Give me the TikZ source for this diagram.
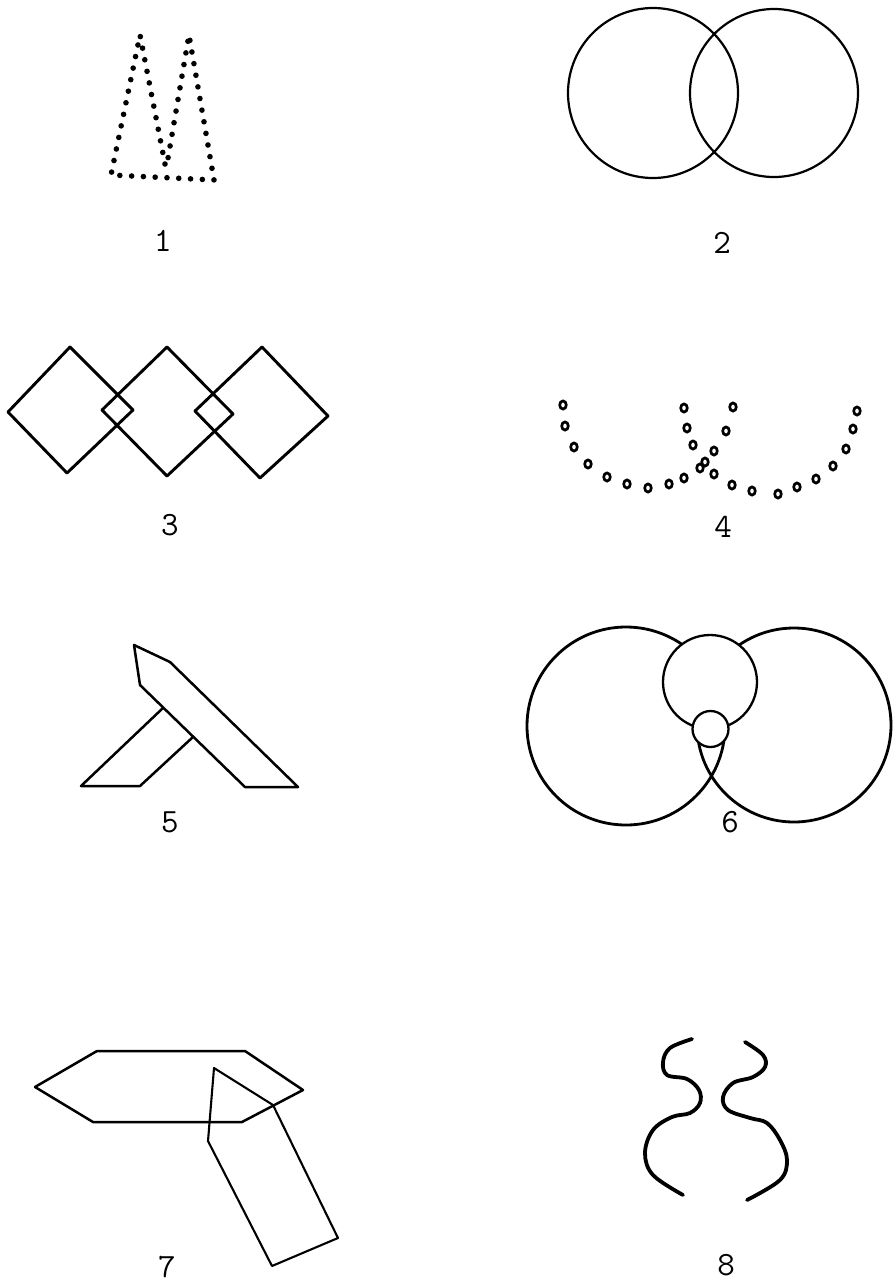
\documentclass[tikz,border=0pt]{standalone}
\usepackage{tikz}
\usetikzlibrary{calc}

\begin{document}
\begin{tikzpicture}[x=1pt, y=-1pt,
  figline/.style={line width=#1, line join=round, line cap=round},
  figline/.default=2.5pt,
  dotline/.style={line width=5.6pt, line cap=round, dash pattern=on 0pt off 11.8pt},
  ring/.style={line width=2.7pt},
  bold/.style={line width=3.8pt, line cap=round},
  lbl/.style={font=\fontsize{34}{34}\selectfont\ttfamily},
]
  \useasboundingbox (0,0) rectangle (893,1286);

  % 1
  \draw[dotline] (165,164) -- (140,35) -- (111,175) -- (214,180) -- (189,35) -- (167,164);
  \node[lbl] (n1) at (163,241) {1};

  % 2
  \draw[figline=2.2pt] (653,93) circle[radius=85pt] (774,93) circle[radius=84pt];
  \node[lbl] (n2) at (722,243) {2};

  % 3
  \draw[figline=2.9pt] (70,347) -- (133,410) -- (67,473) -- (8,412) -- cycle;
  \draw[figline=2.9pt] (167,347) -- (233,414) -- (167,476) -- (102,410) -- cycle;
  \draw[figline=2.9pt] (262,347) -- (328,416) -- (260,478) -- (195,411) -- cycle;
  \node[lbl] (n3) at (170,525) {3};

  % 4
  \foreach \x/\y in {563/405, 565/426, 574/447, 588/464, 607/477, 627/484,
                     648/488, 669/484, 684/478, 700/468, 714/451, 726/431, 733/407}
    \draw[ring] (\x,\y) circle[x radius=3.3pt, y radius=4.1pt];
  \foreach \x/\y in {684/408, 687/428, 693/445, 705/462, 714/474, 732/485, 752/491,
                     778/494, 797/487, 816/479, 833/466, 846/449, 853/429, 857/411}
    \draw[ring] (\x,\y) circle[x radius=3.3pt, y radius=4.1pt];
  \node[lbl] (n4) at (723,527) {4};

  % 5
  \draw[figline] (134,645) -- (170,662) -- (298,787) -- (245,787) -- (140,685) -- cycle;
  \draw[figline] (163,708) -- (81,786) -- (140,786) -- (193,737);
  \node[lbl] (n5) at (170,822) {5};

  % 6
  \begin{scope}[even odd rule]
    \clip (0,600) rectangle (893,850) (710,682) circle[radius=47pt];
    \begin{scope}[even odd rule]
      \clip (0,600) rectangle (893,850) (710.5,729) circle[radius=18pt];
      \draw[figline=2.8pt] (626,726) circle[radius=99pt] (794,725) circle[radius=97pt];
    \end{scope}
  \end{scope}
  \begin{scope}[even odd rule]
    \clip (0,600) rectangle (893,850) (710.5,729) circle[radius=18pt];
    \draw[figline=2.3pt] (710,682) circle[radius=47pt];
  \end{scope}
  \draw[figline=2.3pt] (710.5,729) circle[radius=18pt];
  \node[lbl] (n6) at (730,822) {6};

  % 7
  \draw[figline] (35,1087) -- (97,1051) -- (245,1051) -- (303,1090) -- (242,1122) -- (93,1122) -- cycle;
  \draw[figline=2.1pt] (214,1068) -- (273,1105) -- (338,1238) -- (272,1266) -- (208,1141) -- cycle;
  \node[lbl] (n7) at (167,1267) {7};

  % 8
  \draw[bold] plot[smooth, tension=0.6] coordinates {(692,1039) (670,1048) (663,1062) (667,1075)
    (687,1079) (699,1090) (700,1103) (690,1113) (672,1117) (653,1130) (645,1153) (653,1175) (683,1195)};
  \draw[bold] plot[smooth, tension=0.6] coordinates {(745,1042) (763,1055) (765,1067) (753,1077)
    (733,1083) (723,1097) (728,1110) (750,1118) (767,1123) (780,1140) (787,1160) (780,1180) (747,1200)};
  \node[lbl] (n8) at (726,1265) {8};
\end{tikzpicture}
\end{document}
